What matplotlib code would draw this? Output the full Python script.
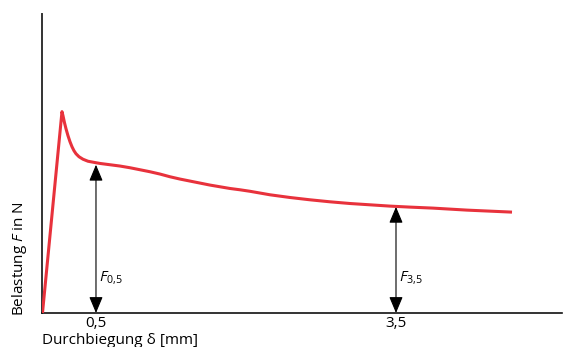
import matplotlib
matplotlib.use('Agg')
import matplotlib.pyplot as plt

plt.rcParams['font.family'] = ['Open Sans', 'DejaVu Sans']
plt.rcParams['mathtext.fontset'] = 'custom'
plt.rcParams['mathtext.it'] = 'Open Sans:italic'
plt.rcParams['mathtext.rm'] = 'Open Sans'

# Durchbiegung in mm, Belastung (ohne Einheit, relativ)
delta = [-0.035, 0.16, 0.17, 0.185, 0.20, 0.22, 0.24, 0.26, 0.28, 0.30, 0.33, 0.37, 0.42,
         0.50, 0.54, 0.64, 0.74, 0.84, 0.94, 1.04, 1.14, 1.24, 1.34, 1.44, 1.54,
         1.64, 1.74, 1.84, 1.94, 2.04, 2.24, 2.44, 2.64, 2.84, 3.04, 3.24, 3.44,
         3.64, 3.87, 4.21, 4.66]
force = [0, 201, 197, 190, 184, 177, 171, 166, 162, 159, 156, 153.5, 151.5,
         150, 149.3, 148, 146.7, 145, 143, 141, 138.7, 136, 133.7, 131.7, 129.7,
         127.7, 126, 124.3, 123, 121.5, 118, 115.3, 113, 111, 109.3, 108, 106.7,
         105.7, 104.7, 102.7, 100.7]

tick_pos = [0.5, 3.5]
tick_labels = ['0,5', '3,5']
arrow_x = [0.5, 3.5]
arrow_f = [148, 106]
arrow_labels = [r'$F_{\mathrm{0{,}5}}$', r'$F_{\mathrm{3{,}5}}$']

fig = plt.figure(figsize=(5.65, 3.47), dpi=100)
ax = fig.add_axes([0.0743, 0.098, 0.9204, 0.8617])

ax.plot(delta, force, color='#e8323c', lw=2.2, solid_capstyle='butt',
        solid_joinstyle='round', zorder=3)

for x, f, lab in zip(arrow_x, arrow_f, arrow_labels):
    ax.annotate('', xy=(x, f), xytext=(x, 0),
                arrowprops=dict(arrowstyle='<|-|>,head_length=1.0,head_width=0.42',
                                color='black', lw=0.8, shrinkA=0, shrinkB=0),
                zorder=2)
    ax.text(x + 0.03, 27, lab, fontsize=11, ha='left', va='bottom')

ax.set_xlim(-0.04, 5.16)
ax.set_ylim(0, 298.5)

for s in ['top', 'right']:
    ax.spines[s].set_visible(False)
ax.spines['left'].set_color('#333333')
ax.spines['bottom'].set_color('#111111')
ax.spines['left'].set_linewidth(1.4)
ax.spines['bottom'].set_linewidth(1.2)

ax.set_xticks(tick_pos)
ax.set_xticklabels(tick_labels, fontsize=11)
ax.tick_params(axis='x', length=0, pad=2)
ax.set_yticks([])

ax.set_xlabel('Durchbiegung δ [mm]', fontsize=11, ha='left')
ax.xaxis.set_label_coords(0.0, -0.068)
fig.text(20 / 565, 1 - 259 / 347, 'Belastung $F$ in N', fontsize=11,
         rotation=90, ha='center', va='center')

fig.savefig('out.png', dpi=100)
